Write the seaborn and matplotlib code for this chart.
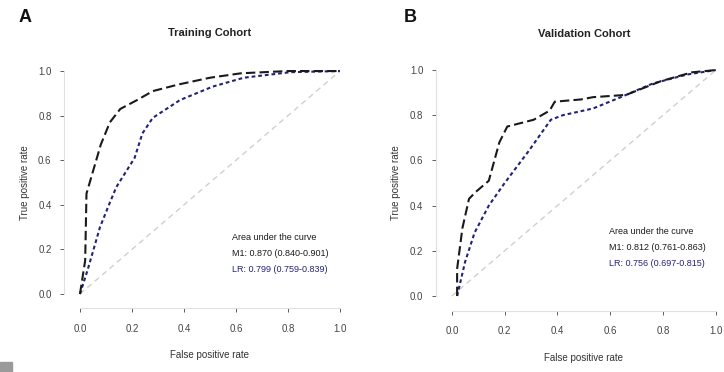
import pandas as pd
import seaborn as sns
import matplotlib.pyplot as plt

# ROC points
train_fpr_m = [0.0, 0.02, 0.025, 0.05, 0.08, 0.115, 0.155, 0.22, 0.28, 0.38, 0.50, 0.62, 0.80, 1.0]
train_tpr_m = [0.0, 0.15, 0.45, 0.55, 0.67, 0.77, 0.83, 0.87, 0.91, 0.94, 0.97, 0.99, 1.0, 1.0]
train_fpr_l = [0.0, 0.03, 0.077, 0.115, 0.14, 0.21, 0.24, 0.28, 0.385, 0.51, 0.63, 0.81, 1.0]
train_tpr_l = [0.0, 0.11, 0.30, 0.41, 0.48, 0.61, 0.72, 0.79, 0.87, 0.93, 0.97, 0.995, 1.0]

valid_fpr_m = [0.02, 0.02, 0.04, 0.065, 0.09, 0.14, 0.18, 0.21, 0.31, 0.37, 0.39, 0.49, 0.535, 0.66, 0.79, 0.91, 1.0]
valid_tpr_m = [0.0, 0.12, 0.30, 0.43, 0.46, 0.51, 0.68, 0.75, 0.78, 0.82, 0.86, 0.87, 0.88, 0.89, 0.95, 0.99, 1.0]
valid_fpr_l = [0.02, 0.05, 0.086, 0.14, 0.20, 0.29, 0.375, 0.42, 0.535, 0.64, 0.76, 0.89, 1.0]
valid_tpr_l = [0.0, 0.15, 0.28, 0.40, 0.50, 0.64, 0.78, 0.80, 0.83, 0.88, 0.94, 0.98, 1.0]

ticks = [0.0, 0.2, 0.4, 0.6, 0.8, 1.0]
tick_labels = ["0.0", "0.2", "0.4", "0.6", "0.8", "1.0"]

auc_title = "Area under the curve"
train_auc = ["M1: 0.870 (0.840-0.901)", "LR: 0.799 (0.759-0.839)"]
valid_auc = ["M1: 0.812 (0.761-0.863)", "LR: 0.756 (0.697-0.815)"]

sns.set_style("white")
plt.rcParams["font.family"] = ["Liberation Sans", "DejaVu Sans"]

black = "#1a1a1a"
navy = "#22227a"

fig = plt.figure(figsize=(7.24, 3.72), dpi=100)
ax_a = fig.add_axes([0.0961, 0.1857, 0.3878, 0.6473])
ax_b = fig.add_axes([0.6095, 0.180, 0.3938, 0.656])


def draw_roc(ax, fpr_m, tpr_m, fpr_l, tpr_l, title, aucs, txt_x, txt_y, tpad):
    ax.plot([0, 1], [0, 1], color="#d0d0d0", lw=1.0, dashes=(4, 3))
    sns.lineplot(x=fpr_l, y=tpr_l, ax=ax, sort=False, estimator=None,
                 color=navy, lw=1.5)
    ax.lines[-1].set_dashes((1.8, 1.4))
    sns.lineplot(x=fpr_m, y=tpr_m, ax=ax, sort=False, estimator=None,
                 color=black, lw=1.5)
    ax.lines[-1].set_dashes((4.5, 2))
    ax.set_xlim(-0.04, 1.04)
    ax.set_ylim(-0.04, 1.04)
    ax.set_xticks(ticks)
    ax.set_xticklabels(tick_labels)
    ax.set_yticks(ticks)
    ax.set_yticklabels(tick_labels, rotation=90, va="center")
    ax.tick_params(labelsize=7, colors="#444444", length=3, width=0.6, pad=8,
                   left=True, bottom=True)
    ax.tick_params(axis="y", pad=6)
    for s in ["top", "right"]:
        ax.spines[s].set_visible(False)
    for s in ["left", "bottom"]:
        ax.spines[s].set_color("#e0e0e0")
        ax.spines[s].set_linewidth(0.8)
        ax.spines[s].set_bounds(0, 1)
    ax.spines["left"].set_position(("outward", 4))
    ax.spines["bottom"].set_position(("outward", 4))
    ax.set_xlabel("False positive rate", fontsize=7, color="#333333", labelpad=12)
    ax.set_ylabel("True positive rate", fontsize=7, color="#333333", labelpad=6)
    ax.set_title(title, fontsize=8, fontweight="bold", color="#222222", pad=tpad)
    ax.text(txt_x, txt_y, auc_title, fontsize=6.5, color=black, transform=ax.transAxes)
    ax.text(txt_x, txt_y - 0.065, aucs[0], fontsize=6.5, color=black, transform=ax.transAxes)
    ax.text(txt_x, txt_y - 0.13, aucs[1], fontsize=6.5, color=navy, transform=ax.transAxes)


draw_roc(ax_a, train_fpr_m, train_tpr_m, train_fpr_l, train_tpr_l,
         "Training Cohort", train_auc, 0.58, 0.26, 19)
draw_roc(ax_b, valid_fpr_m, valid_tpr_m, valid_fpr_l, valid_tpr_l,
         "Validation Cohort", valid_auc, 0.59, 0.29, 17.5)

fig.text(0.025, 0.94, "A", fontsize=13, fontweight="bold", color="#111111")
fig.text(0.558, 0.94, "B", fontsize=13, fontweight="bold", color="#111111")
fig.patches.append(plt.Rectangle((0, 0), 0.016, 0.026, transform=fig.transFigure,
                                 color="#9a9a9a", figure=fig))

fig.savefig("out.png", dpi=100)
